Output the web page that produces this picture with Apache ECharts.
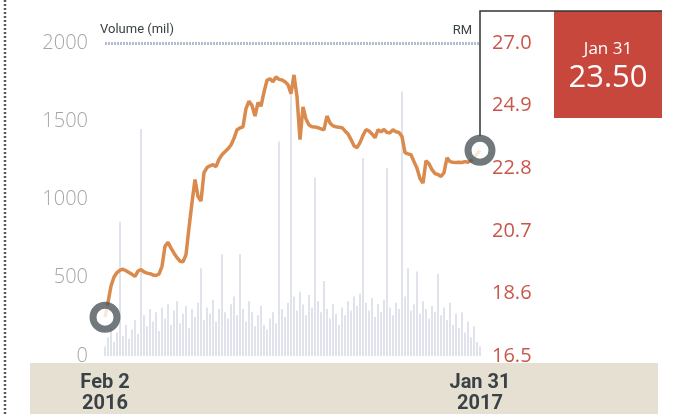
<!DOCTYPE html>
<html>
<head>
<meta charset="utf-8">
<script src="https://cdn.jsdelivr.net/npm/echarts@6/dist/echarts.min.js"></script>
<style>
html,body{margin:0;padding:0;background:#fff;}
#chart{width:673px;height:414px;}
</style>
</head>
<body>
<div id="chart"></div>
<script>
// Closing share price (RM), Feb 2 2016 -> Jan 31 2017 (sampled ~every 2 trading days)
const priceRM = [
 17.80,18.30,18.85,19.15,19.30,19.38,19.41,19.36,19.30,19.24,
 19.17,19.35,19.40,19.32,19.28,19.26,19.22,19.20,19.25,19.51,
 20.18,20.31,20.12,19.95,19.80,19.68,19.66,19.90,20.80,21.65,
 22.42,21.85,21.70,22.65,22.82,22.88,22.92,22.85,23.10,23.25,
 23.35,23.45,23.58,23.80,24.09,24.15,24.19,24.80,25.05,24.90,
 24.55,25.00,24.88,25.35,25.75,25.80,25.70,25.86,25.78,25.76,
 25.70,25.60,25.30,25.93,25.20,23.76,24.86,24.45,24.25,24.19,
 24.18,24.16,24.12,24.09,24.55,24.32,24.22,24.19,24.17,24.16,
 24.05,23.95,23.76,23.55,23.49,23.66,23.90,24.09,24.05,23.95,
 23.82,24.09,24.02,24.10,24.00,23.99,24.09,24.02,24.00,23.86,
 23.32,23.28,23.25,23.02,22.80,22.45,22.30,23.05,22.95,22.75,
 22.62,22.59,22.52,22.65,23.15,23.02,23.00,22.99,23.00,22.99,
 23.02,23.00,23.05,23.15,23.28,23.40
];
// Traded volume (mil)
const volumeMil = [
 60,120,180,90,150,860,130,200,110,170,
 230,140,1450,260,190,300,220,280,160,310,
 240,330,200,290,350,210,270,320,180,300,
 250,340,560,230,310,270,360,220,300,650,
 280,240,330,380,260,650,300,220,350,280,
 190,260,320,200,170,240,280,210,1370,300,
 250,340,1690,380,290,410,330,260,390,310,
 1140,350,280,480,300,240,330,270,200,310,
 260,350,290,380,320,400,1265,340,290,370,
 250,330,280,360,1200,310,260,340,300,1690,
 380,560,290,330,540,270,350,300,240,320,
 280,525,260,310,230,340,200,270,180,280,
 150,220,120,190,90,60
];
const dateLabels = ['Feb 2\n2016', 'Jan 31\n2017'];
const volumeTicks = [0, 500, 1000, 1500, 2000];
const priceTicks = [16.5, 18.6, 20.7, 22.8, 24.9, 27.0];
const callout = { date: 'Jan 31', price: '23.50' };

const N = priceRM.length;
const dayIdx = priceRM.map((_, i) => String(i));

const chart = echarts.init(document.getElementById('chart'), null, { renderer: 'canvas' });

const ringStyle = { color: '#ffffff', borderColor: '#4f585b', borderWidth: 7 };

const option = {
  animation: false,
  backgroundColor: '#ffffff',
  grid: { left: 105, right: 193, top: 43, bottom: 58, containLabel: false },
  xAxis: {
    type: 'category',
    data: dayIdx,
    boundaryGap: false,
    axisLine: { show: false },
    axisTick: { show: false },
    splitLine: { show: false },
    axisLabel: {
      interval: function (index) { return index === 0 || index === N - 1; },
      formatter: function (value) { return value === '0' ? dateLabels[0] : dateLabels[1]; },
      color: '#3b4245',
      fontFamily: 'Roboto',
      fontWeight: 'bold',
      fontSize: 20,
      lineHeight: 21,
      margin: 16
    }
  },
  yAxis: [
    {
      type: 'value',
      position: 'left',
      min: volumeTicks[0],
      max: volumeTicks[volumeTicks.length - 1],
      interval: 500,
      axisLine: { show: false },
      axisTick: { show: false },
      splitLine: { show: false },
      axisLabel: {
        formatter: function (v) { return String(v); },
        color: '#a6a6a6',
        fontFamily: 'Open Sans',
        fontWeight: 300,
        fontSize: 20,
        margin: 17
      }
    },
    {
      type: 'value',
      position: 'right',
      min: priceTicks[0],
      max: priceTicks[priceTicks.length - 1],
      axisLine: { show: false },
      axisTick: { show: false },
      splitLine: { show: false },
      axisLabel: {
        customValues: priceTicks,
        formatter: function (v) { return Number(v).toFixed(1); },
        color: '#c9564b',
        fontFamily: 'Open Sans',
        fontSize: 20,
        margin: 12
      }
    }
  ],
  series: [
    {
      name: 'Volume',
      type: 'bar',
      yAxisIndex: 0,
      data: volumeMil,
      barWidth: 2,
      itemStyle: { color: 'rgba(186,193,211,0.45)' },
      silent: true,
      markLine: {
        silent: true,
        symbol: 'none',
        label: { show: false },
        lineStyle: { color: '#b4bdd0', width: 3, type: [2, 1] },
        data: [{ yAxis: volumeTicks[volumeTicks.length - 1] }]
      }
    },
    {
      name: 'Price',
      type: 'line',
      yAxisIndex: 1,
      data: priceRM,
      showSymbol: false,
      smooth: false,
      lineStyle: { color: '#d98a4c', width: 3.5 },
      z: 3
    },
    {
      name: 'Ends',
      type: 'scatter',
      yAxisIndex: 1,
      data: [[0, priceRM[0]], [N - 1, priceRM[N - 1]]],
      symbol: 'circle',
      symbolSize: 24,
      itemStyle: ringStyle,
      z: 5
    }
  ]
};

chart.setOption(option);

const endPt = chart.convertToPixel({ xAxisIndex: 0, yAxisIndex: 1 }, [N - 1, priceRM[N - 1]]);

chart.setOption({
  graphic: [
    { type: 'rect', z: -10, shape: { x: 30, y: 363, width: 628, height: 60 }, style: { fill: '#e6e0d3' } },
    { type: 'line', shape: { x1: 5, y1: 0, x2: 5, y2: 414 }, style: { stroke: '#5a5a5a', lineWidth: 2.5, lineDash: [2, 2] } },
    { type: 'text', x: 100, y: 30, style: { text: 'Volume (mil)', fill: '#3b4245', font: '13px Roboto', textVerticalAlign: 'middle', textAlign: 'left' } },
    { type: 'text', x: 472, y: 31, style: { text: 'RM', fill: '#3b4245', font: '13px Roboto', textVerticalAlign: 'middle', textAlign: 'right' } },
    { type: 'polyline', z: 1, shape: { points: [[endPt[0], endPt[1] - 14], [endPt[0], 11], [662, 11]] }, style: { stroke: '#2f3436', lineWidth: 1.5, fill: null } },
    { type: 'rect', shape: { x: 554, y: 11, width: 108, height: 107 }, style: { fill: '#c8473d' } },
    { type: 'text', x: 608, y: 49, style: { text: callout.date, fill: '#ffffff', font: '17px "Open Sans"', textAlign: 'center', textVerticalAlign: 'middle' } },
    { type: 'text', x: 608, y: 78, style: { text: callout.price, fill: '#ffffff', font: '31px "Open Sans"', textAlign: 'center', textVerticalAlign: 'middle' } }
  ]
});
</script>
</body>
</html>
